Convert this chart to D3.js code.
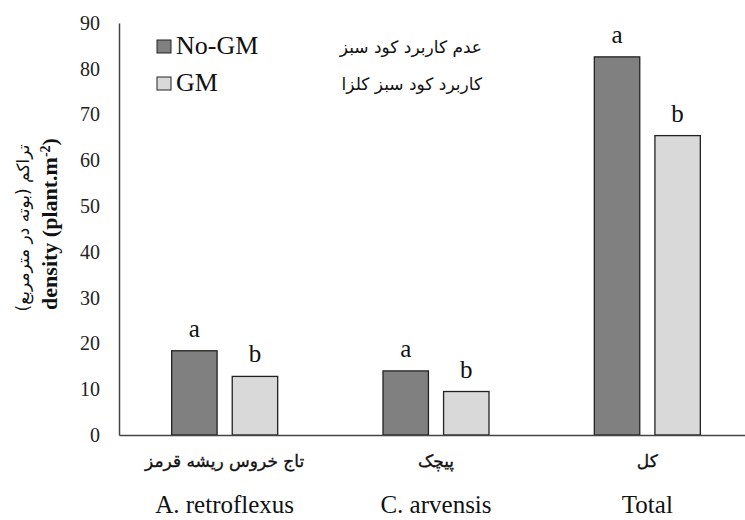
<!DOCTYPE html>
<html>
<head>
<meta charset="utf-8">
<script src="https://cdn.jsdelivr.net/npm/d3@7"></script>
<style>
  html, body { margin: 0; padding: 0; background: #fff; }
  svg { display: block; }
</style>
</head>
<body>
<div id="chart"></div>
<script>
// Weed density by species under two cover-crop treatments
const categoriesEn = ["A. retroflexus", "C. arvensis", "Total"];
const categoriesFa = ["تاج خروس ریشه قرمز", "پیچک", "کل"];
const seriesNames = ["No-GM", "GM"];
const seriesNamesFa = ["عدم کاربرد کود سبز", "کاربرد کود سبز کلزا"];
const noGM = [18.4, 14.0, 82.6];
const gm = [12.8, 9.5, 65.4];
const letterNoGM = ["a", "a", "a"];
const letterGM = ["b", "b", "b"];
const yTicks = [0, 10, 20, 30, 40, 50, 60, 70, 80, 90];

const W = 745, H = 520;
const margin = { left: 119, right: -8, top: 23, bottom: 85 };
const colors = ["#808080", "#d9d9d9"];
const serif = "'Liberation Serif', 'Times New Roman', serif";
const persian = "'DejaVu Sans', 'Noto Sans', sans-serif";

const svg = d3.select("#chart").append("svg")
  .attr("width", W).attr("height", H);

const x0 = d3.scaleBand()
  .domain(categoriesEn)
  .range([margin.left, W - margin.right])
  .paddingInner(0).paddingOuter(0);

const x1 = d3.scaleBand()
  .domain(seriesNames)
  .range([x0.bandwidth() / 2 - 53, x0.bandwidth() / 2 + 53])
  .paddingInner(0.25);

const y = d3.scaleLinear()
  .domain([0, 90])
  .range([H - margin.bottom, margin.top]);

const rows = categoriesEn.map((c, i) => ({
  cat: c,
  vals: [
    { s: seriesNames[0], v: noGM[i], letter: letterNoGM[i], color: colors[0] },
    { s: seriesNames[1], v: gm[i], letter: letterGM[i], color: colors[1] }
  ]
}));

// bars
const groups = svg.append("g").selectAll("g").data(rows).join("g")
  .attr("transform", d => `translate(${x0(d.cat)},0)`);

groups.selectAll("rect").data(d => d.vals).join("rect")
  .attr("x", d => x1(d.s))
  .attr("width", x1.bandwidth())
  .attr("y", d => y(d.v))
  .attr("height", d => y(0) - y(d.v))
  .attr("fill", d => d.color)
  .attr("stroke", "#222")
  .attr("stroke-width", 1.3);

// significance letters
groups.selectAll("text.letter").data(d => d.vals).join("text")
  .attr("class", "letter")
  .attr("x", d => x1(d.s) + x1.bandwidth() / 2)
  .attr("y", d => y(d.v) - 14)
  .attr("text-anchor", "middle")
  .attr("font-family", serif)
  .attr("font-size", 25)
  .attr("fill", "#111")
  .text(d => d.letter);

// y axis
const yAxis = d3.axisLeft(y).tickValues(yTicks).tickSize(0).tickPadding(19);
const gy = svg.append("g")
  .attr("transform", `translate(${margin.left},0)`)
  .call(yAxis);
gy.select(".domain").attr("stroke", "#444").attr("stroke-width", 1.5);
gy.selectAll("text")
  .attr("font-family", serif)
  .attr("font-size", 20)
  .attr("fill", "#222");

// x axis baseline
const xAxis = d3.axisBottom(x0).tickSize(0).tickFormat("");
const gx = svg.append("g")
  .attr("transform", `translate(0,${y(0)})`)
  .call(xAxis);
gx.select(".domain").attr("stroke", "#444").attr("stroke-width", 1.5);

// category labels
categoriesEn.forEach((c, i) => {
  const cx = x0(c) + x0.bandwidth() / 2;
  svg.append("text")
    .attr("x", cx).attr("y", 467)
    .attr("text-anchor", "middle")
    .attr("font-family", persian)
    .attr("font-size", 17)
    .attr("fill", "#111")
    .attr("stroke", "#111")
    .attr("stroke-width", 0.35)
    .text(categoriesFa[i]);
  svg.append("text")
    .attr("x", cx).attr("y", 513)
    .attr("text-anchor", "middle")
    .attr("font-family", serif)
    .attr("font-size", 25)
    .attr("fill", "#111")
    .text(c);
});

// y axis titles
const title = svg.append("text")
  .attr("transform", "translate(57,224) rotate(-90)")
  .attr("text-anchor", "middle")
  .attr("font-family", serif)
  .attr("font-size", 22)
  .attr("font-weight", "bold")
  .attr("fill", "#111");
title.append("tspan").text("density (plant.m");
title.append("tspan").attr("baseline-shift", "super").attr("font-size", 14).text("-2");
title.append("tspan").text(")");

svg.append("text")
  .attr("transform", "translate(29,228) rotate(-90)")
  .attr("text-anchor", "middle")
  .attr("direction", "rtl")
  .attr("font-family", persian)
  .attr("font-size", 17)
  .attr("fill", "#111")
  .text("تراکم (بوته در مترمربع)");

// legend
const legend = svg.append("g");
seriesNames.forEach((s, i) => {
  const ly = 47 + i * 37;
  legend.append("rect")
    .attr("x", 157).attr("y", ly - 7)
    .attr("width", 14).attr("height", 13)
    .attr("fill", colors[i])
    .attr("stroke", "#222").attr("stroke-width", 1);
  legend.append("text")
    .attr("x", 176).attr("y", ly + 7)
    .attr("font-family", serif)
    .attr("font-size", 26)
    .attr("fill", "#111")
    .text(s);
  legend.append("text")
    .attr("x", 482).attr("y", ly + 6)
    .attr("text-anchor", "end")
    .attr("font-family", persian)
    .attr("font-size", 17)
    .attr("fill", "#111")
    .text(seriesNamesFa[i]);
});
</script>
</body>
</html>
